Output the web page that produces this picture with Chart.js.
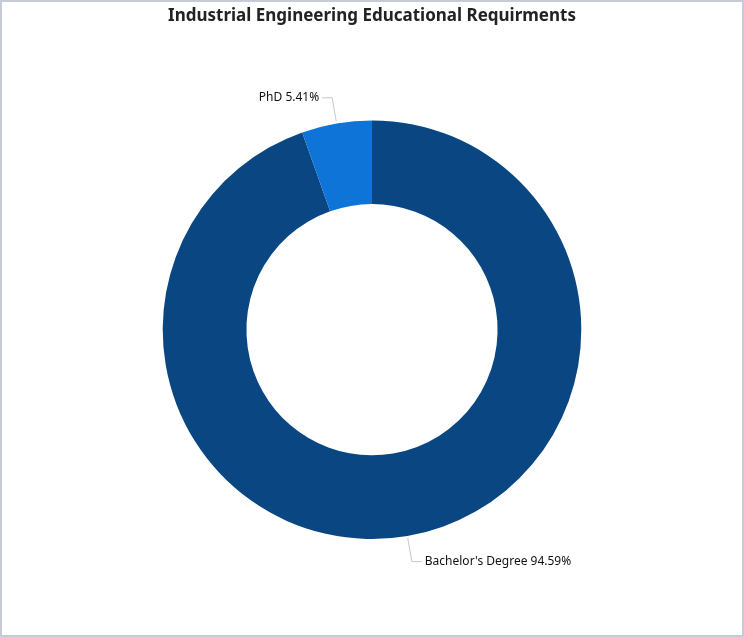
<!DOCTYPE html>
<html>
<head>
<meta charset="utf-8">
<script src="https://cdn.jsdelivr.net/npm/chart.js@4"></script>
<style>
  html, body { margin: 0; padding: 0; background: #fff; }
  #wrap { width: 744px; height: 637px; box-sizing: border-box; border: 2px solid #c5ccd8; }
  #wrap canvas { display: block; }
</style>
</head>
<body>
<div id="wrap"><canvas id="chart" width="740" height="633"></canvas></div>
<script>
  const categories = ["Bachelor's Degree", 'PhD'];
  const shares     = [94.59, 5.41];
  const colors     = ['#0a4782', '#0f74d8'];

  const FONT = '"Noto Sans", "Open Sans", sans-serif';

  /* ── Labels with leader lines ─────────────────────────────────────── */
  const leaderLabels = {
    id: 'leaderLabels',
    afterDatasetsDraw(chart) {
      const ctx = chart.ctx;
      const meta = chart.getDatasetMeta(0);
      ctx.save();
      ctx.font = '12px ' + FONT;
      ctx.textBaseline = 'middle';
      meta.data.forEach((arc, i) => {
        const mid = (arc.startAngle + arc.endAngle) / 2;
        const r = arc.outerRadius;
        const x0 = arc.x + Math.cos(mid) * (r + 2);
        const y0 = arc.y + Math.sin(mid) * (r + 2);
        const x1 = arc.x + Math.cos(mid) * (r + 26);
        const y1 = arc.y + Math.sin(mid) * (r + 26);
        const right = Math.cos(mid) >= 0;
        const x2 = x1 + (right ? 10 : -10);
        ctx.strokeStyle = '#c8c8c8';
        ctx.lineWidth = 1;
        ctx.beginPath();
        ctx.moveTo(x0, y0);
        ctx.lineTo(x1, y1);
        ctx.lineTo(x2, y1);
        ctx.stroke();
        ctx.fillStyle = '#111';
        ctx.textAlign = right ? 'left' : 'right';
        const text = categories[i] + ' ' + shares[i].toFixed(2) + '%';
        ctx.fillText(text, x2 + (right ? 3 : -3), y1);
      });
      ctx.restore();
    }
  };

  new Chart(document.getElementById('chart'), {
    type: 'doughnut',
    data: {
      labels: categories,
      datasets: [{
        data: shares,
        backgroundColor: colors,
        borderWidth: 0,
      }],
    },
    options: {
      responsive: false,
      animation: false,
      cutout: '60%',
      layout: { padding: { top: 0, bottom: 96 } },
      plugins: {
        legend: { display: false },
        tooltip: { enabled: false },
        title: {
          display: true,
          text: 'Industrial Engineering Educational Requirments',
          color: '#222',
          font: { family: FONT, size: 17, weight: 'bold' },
          padding: { top: 4, bottom: 94 },
        },
      },
    },
    plugins: [leaderLabels],
  });
</script>
</body>
</html>
